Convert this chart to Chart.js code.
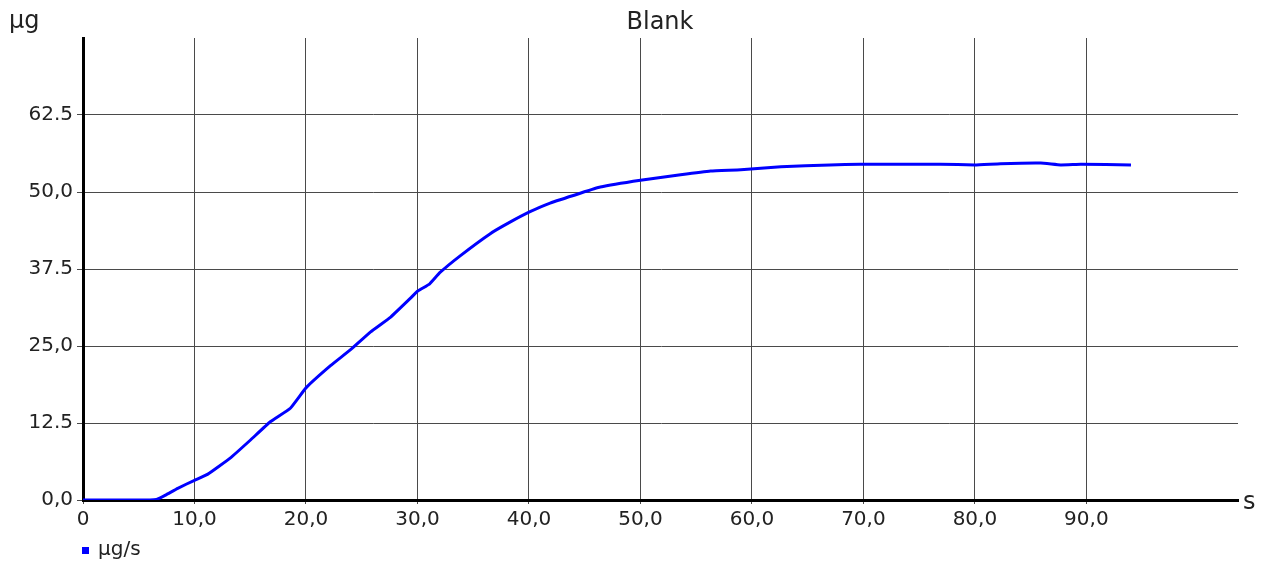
<!DOCTYPE html>
<html>
<head>
<meta charset="utf-8">
<script src="https://cdn.jsdelivr.net/npm/chart.js@4"></script>
<style>
  html, body { margin: 0; padding: 0; background: #fff; }
  #wrap { width: 1266px; height: 565px; }
</style>
</head>
<body>
<div id="wrap"><canvas id="chart" width="1266" height="565"></canvas></div>
<script>
// Blank measurement: mass over time
const times = [0, 2, 4, 6, 6.6, 7.4, 8.5, 10, 11.2, 13.2, 15, 16.8, 18.6, 20, 22.2, 24, 25.8, 27.6, 29.4, 30, 31.1, 32, 33.8, 36.5, 38.3, 40.1, 41.9, 44.6, 46.4, 50, 53.6, 56.3, 59, 62.6, 67, 69.7, 76.9, 80, 82.3, 85.9, 87.7, 89.5, 94];
const mass = [0, 0, 0, 0, 0.1, 0.8, 1.9, 3.2, 4.2, 6.8, 9.7, 12.7, 14.9, 18.2, 21.8, 24.4, 27.3, 29.7, 32.8, 33.9, 35.1, 36.9, 39.6, 43.2, 45.1, 46.8, 48.2, 49.8, 50.8, 51.9, 52.8, 53.4, 53.6, 54.1, 54.4, 54.5, 54.5, 54.4, 54.6, 54.7, 54.4, 54.5, 54.4];
const chartTitle = 'Blank';
const yUnit = 'µg';
const xUnit = 's';
const seriesLabel = 'µg/s';

const tickFont = { family: 'DejaVu Sans', size: 20 };

// half steps print with a dot, whole ones with a comma (as in the original)
function fmtY(v) {
    return v % 1 !== 0 ? v.toFixed(1) : v.toFixed(1).replace('.', ',');
}

const extraText = {
    id: 'extraText',
    afterDraw(chart) {
        const ctx = chart.ctx;
        ctx.save();
        ctx.fillStyle = '#222';
        ctx.textBaseline = 'middle';
        ctx.font = '24px "DejaVu Sans"';
        ctx.textAlign = 'center';
        ctx.fillText(chartTitle, 660, 23);
        ctx.textAlign = 'left';
        ctx.fillText(yUnit, 9, 22);
        ctx.fillText(xUnit, 1243, 503);
        // legend
        ctx.fillStyle = '#0000ff';
        ctx.fillRect(82, 547, 7, 7);
        ctx.fillStyle = '#222';
        ctx.font = '20px "DejaVu Sans"';
        ctx.fillText(seriesLabel, 98, 550);
        ctx.restore();
    }
};

new Chart(document.getElementById('chart'), {
    type: 'line',
    data: {
        labels: times,
        datasets: [{
            label: seriesLabel,
            data: times.map((t, i) => ({ x: t, y: mass[i] })),
            borderColor: '#0000ff',
            borderWidth: 3,
            pointRadius: 0,
            tension: 0.1,
            fill: false
        }]
    },
    options: {
        responsive: false,
        animation: false,
        layout: { padding: { top: 38, right: 28, left: 0, bottom: 0 } },
        plugins: {
            legend: { display: false },
            title: { display: false },
            tooltip: { enabled: false }
        },
        scales: {
            x: {
                type: 'linear',
                min: 0,
                max: 103.6,
                afterFit(scale) { scale.height = 65; },
                afterBuildTicks(scale) {
                    scale.ticks = scale.ticks.filter(t => t.value <= 90);
                },
                ticks: {
                    stepSize: 10,
                    color: '#222',
                    font: tickFont,
                    padding: 4,
                    maxRotation: 0,
                    callback: v => v === 0 ? '0' : v.toFixed(1).replace('.', ',')
                },
                grid: { color: '#4a4a4a', lineWidth: 1, tickLength: 4 },
                border: { color: '#000', width: 3 }
            },
            y: {
                min: 0,
                max: 75,
                afterFit(scale) { scale.width = 83; },
                afterBuildTicks(scale) {
                    scale.ticks = scale.ticks.filter(t => t.value < 75);
                },
                ticks: {
                    stepSize: 12.5,
                    color: '#222',
                    font: tickFont,
                    padding: 4,
                    callback: fmtY
                },
                grid: { color: '#4a4a4a', lineWidth: 1, tickLength: 6 },
                border: { color: '#000', width: 3 }
            }
        }
    },
    plugins: [extraText]
});
</script>
</body>
</html>
